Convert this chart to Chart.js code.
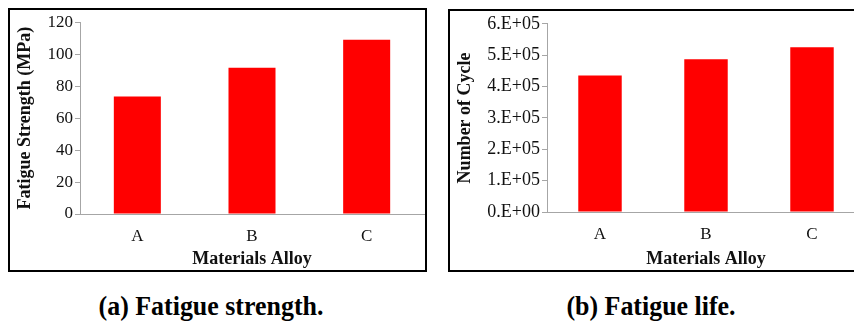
<!DOCTYPE html>
<html lang="en">
<head>
    <meta charset="UTF-8">
    <title>Fatigue strength and fatigue life</title>
    <script src="https://cdn.jsdelivr.net/npm/chart.js"></script>
    <style>
        html, body {
            margin: 0;
            padding: 0;
            width: 854px;
            height: 322px;
            overflow: hidden;
            background: #fff;
            position: relative;
        }
        .panel {
            position: absolute;
            box-sizing: border-box;
            border: 2px solid #000;
            background: #fff;
        }
        #panelA { left: 8px; top: 8px; width: 419px; height: 264px; }
        #panelB { left: 448px; top: 9px; width: 430px; height: 263px; }
        .panel canvas { position: absolute; left: 0; top: 0; }
        .caption {
            position: absolute;
            top: 293px;
            line-height: 27px;
            font-family: 'Liberation Serif', 'Times New Roman', serif;
            font-weight: bold;
            font-size: 27px;
            color: #000;
            transform: translateX(-50%) scaleX(0.96);
            white-space: nowrap;
        }
    </style>
</head>
<body>
    <div class="panel" id="panelA"><canvas id="chartA" width="415" height="260"></canvas></div>
    <div class="panel" id="panelB"><canvas id="chartB" width="416" height="259"></canvas></div>
    <div class="caption" style="left:211px">(a) Fatigue strength.</div>
    <div class="caption" style="left:651px">(b) Fatigue life.</div>

    <script>
        const alloys = ['A', 'B', 'C'];
        const fatigueStrength = [73.5, 91.5, 109];       // MPa
        const fatigueLife = [435000, 487000, 525000];    // cycles
        const strengthTicks = [0, 20, 40, 60, 80, 100, 120];
        const lifeTickLabels = ['0.E+00', '1.E+05', '2.E+05', '3.E+05', '4.E+05', '5.E+05', '6.E+05'];

        const serif = "'Liberation Serif', 'Times New Roman', serif";
        const axisGray = '#a6a6a6';

        function makeChart(id, values, yMax, yStep, yLabel, tickFmt, tickSize, yWidth, xHeight) {
            return new Chart(document.getElementById(id), {
                type: 'bar',
                data: {
                    labels: alloys,
                    datasets: [{
                        data: values,
                        backgroundColor: '#ff0000',
                        borderWidth: 0,
                        barPercentage: 0.41,
                        categoryPercentage: 1.0
                    }]
                },
                options: {
                    responsive: false,
                    animation: false,
                    layout: { padding: { top: 9, right: 1, left: 0, bottom: 0 } },
                    plugins: { legend: { display: false }, tooltip: { enabled: false } },
                    scales: {
                        x: {
                            grid: { display: true, drawOnChartArea: false, drawTicks: false },
                            border: { display: true, color: axisGray, width: 1 },
                            ticks: { color: '#111', padding: 12, font: { family: serif, size: 17 } },
                            title: {
                                display: true,
                                text: 'Materials Alloy',
                                color: '#111',
                                font: { family: serif, size: 18, weight: 'bold' },
                                padding: { top: 0, bottom: 0 }
                            },
                            afterFit: s => { s.height = xHeight; }
                        },
                        y: {
                            min: 0,
                            max: yMax,
                            grid: { display: true, drawOnChartArea: false, drawTicks: true, tickLength: 5, color: axisGray },
                            border: { display: true, color: axisGray, width: 1 },
                            ticks: {
                                stepSize: yStep,
                                color: '#111',
                                padding: 2,
                                font: { family: serif, size: tickSize },
                                callback: tickFmt
                            },
                            title: {
                                display: true,
                                text: yLabel,
                                color: '#111',
                                font: { family: serif, size: 18, weight: 'bold' },
                                padding: { top: 5, bottom: 0 }
                            },
                            afterFit: s => { s.width = yWidth; }
                        }
                    }
                }
            });
        }

        makeChart('chartA', fatigueStrength, 120, 20, 'Fatigue Strength (MPa)',
            (v, i) => strengthTicks[i], 17, 70, 56);

        makeChart('chartB', fatigueLife, 600000, 100000, 'Number of Cycle',
            (v, i) => lifeTickLabels[i], 18, 97, 58);
    </script>
</body>
</html>
